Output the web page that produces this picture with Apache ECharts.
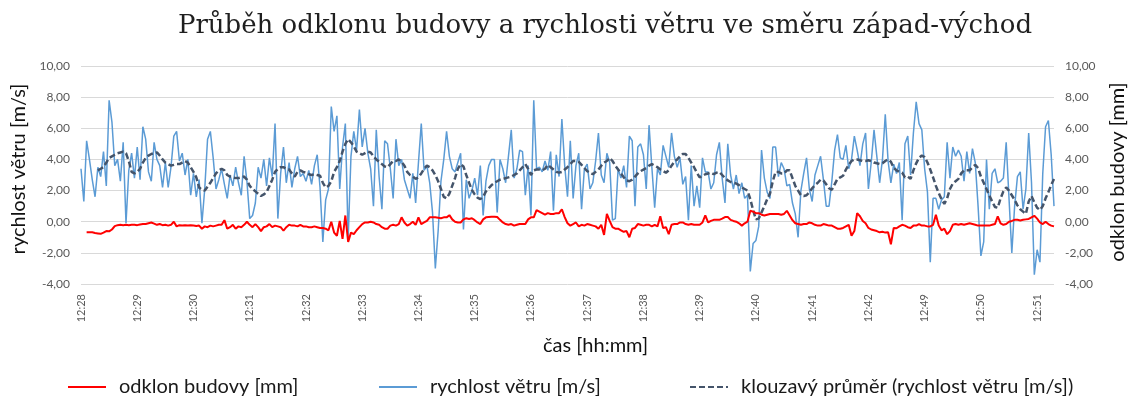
<!DOCTYPE html>
<html>
<head>
<meta charset="utf-8">
<title>Průběh odklonu budovy a rychlosti větru</title>
<script src="https://cdn.jsdelivr.net/npm/echarts@6/dist/echarts.min.js"></script>
<style>
  html, body { margin: 0; padding: 0; background: #ffffff; }
  #chart { width: 1136px; height: 396px; }
</style>
</head>
<body>
<div id="chart"></div>
<script>
// Time labels shown along the x axis (one every labelEvery samples)
const tickLabels = ['12:28', '12:29', '12:30', '12:31', '12:32', '12:33', '12:34', '12:35', '12:36',
  '12:37', '12:38', '12:39', '12:40', '12:41', '12:42', '12:49', '12:50', '12:51'];
const labelEvery = 20;

// Wind speed in the west-east direction [m/s]
const windSpeed = [
  3.4, 1.3, 5.2, 4.0, 2.7, 1.6, 3.5, 2.9, 4.5, 2.3, 7.8, 6.4, 3.6, 4.0, 2.6, 5.1, -0.1, 3.3, 4.4, 2.8,
  4.8, 2.7, 6.1, 5.3, 3.2, 2.6, 5.1, 4.0, 3.6, 2.2, 3.8, 2.2, 3.5, 5.5, 5.8, 3.9, 4.4, 3.0, 4.0, 1.7,
  3.1, 1.6, 2.7, -0.1, 2.1, 5.3, 5.8, 4.1, 2.1, 2.7, 3.4, 2.4, 1.5, 3.0, 2.3, 3.5, 2.5, 1.7, 4.2, 2.6,
  0.2, 0.4, 1.2, 3.5, 2.8, 4.0, 2.3, 4.1, 2.9, 6.3, 0.2, 3.1, 4.8, 2.5, 3.8, 2.2, 3.4, 4.2, 2.9, 3.1,
  2.6, 3.3, 2.4, 3.6, 4.3, 2.2, -1.3, 1.4, 2.1, 7.4, 5.8, 6.8, 2.1, 4.8, 6.3, -1.1, 4.2, 5.8, 4.6, 7.2,
  4.8, 6.0, 4.4, 3.4, 1.0, 5.9, 2.9, 0.8, 5.2, 5.0, 3.4, 1.5, 5.3, 3.6, 4.0, 2.7, 2.1, 1.5, 3.1, 1.2,
  3.8, 6.3, 3.3, 3.6, 2.5, 0.6, -3.0, -0.6, 2.6, 4.0, 5.8, 4.2, 3.4, 3.2, 3.8, 4.4, -0.5, 2.7, 1.5, 2.0,
  2.8, 1.7, 3.6, 0.4, 2.6, 3.6, 4.0, 4.0, 0.6, 4.0, 3.4, 2.5, 4.2, 5.9, 2.8, 3.4, 4.6, 4.5, 1.7, 3.6,
  0.4, 7.8, 3.4, 3.5, 3.2, 3.9, 3.3, 4.5, 0.7, 4.3, 2.9, 6.6, 3.6, 1.6, 5.2, 1.5, 3.6, 4.4, 0.8, 3.4,
  3.7, 2.1, 2.5, 3.9, 5.7, 3.0, 2.5, 4.4, 3.8, 0.1, 0.2, 3.4, 2.8, 3.6, 2.2, 5.5, 5.2, 1.0, 4.8, 5.0,
  4.3, 2.1, 6.2, 3.5, 0.9, 3.4, 3.0, 4.9, 4.2, 3.5, 5.7, 4.2, 3.5, 4.1, 2.4, 2.9, 0.1, 3.6, 1.0, 2.3,
  0.9, 4.1, 3.2, 3.2, 2.1, 2.5, 4.3, 5.1, 2.8, 1.2, 5.0, 3.0, 2.1, 3.0, 1.8, 2.5, 1.5, 1.7, -3.2, -1.4,
  -1.2, -0.3, 4.6, 2.8, 1.9, 1.5, 4.8, 4.8, 2.9, 3.8, 3.4, 2.3, 2.4, 1.2, 0.5, -1.0, 2.0, 3.1, 4.1, 2.1,
  1.3, 3.0, 3.6, 4.2, 2.7, 1.0, 1.0, 2.6, 4.6, 5.6, 4.1, 4.0, 4.9, 3.4, 4.0, 5.5, 4.6, 3.6, 5.0, 5.7,
  2.1, 3.8, 5.9, 4.2, 2.5, 4.0, 6.9, 3.9, 2.5, 3.7, 3.1, 3.8, 0.1, 5.0, 5.5, 3.0, 5.7, 7.7, 6.3, 5.9,
  3.4, 1.9, -2.6, 1.5, 1.5, 0.8, 1.4, 1.6, 5.1, 2.8, 4.8, 4.2, 4.6, 4.2, 2.6, 4.5, 3.1, 4.7, 3.8, 1.0,
  -2.2, -1.3, 4.0, 0.8, 3.1, 3.4, 2.5, 2.6, 2.8, 5.1, 1.5, -2.0, 1.0, 2.9, 3.2, 0.8, 2.1, 5.7, 2.5, -3.4,
  -1.8, -2.6, 3.1, 6.1, 6.5, 4.3, 1.0
];

// Moving average of the wind speed [m/s]
const movingAverage = [
  null, null, null, null, null, null, 3.3, 3.4, 3.5, 3.8, 4.1, 4.2, 4.3, 4.4, 4.45, 4.5, 4.4, 3.9, 3.2, 3.1,
  3.2, 3.4, 3.8, 4.1, 4.25, 4.35, 4.4, 4.45, 4.25, 4.0, 3.8, 3.7, 3.6, 3.65, 3.7, 3.7, 3.8, 3.9, 3.8, 3.5,
  3.2, 2.85, 2.2, 2.05, 2.0, 2.25, 2.5, 2.8, 3.1, 3.3, 3.4, 3.3, 3.0, 2.9, 2.85, 2.8, 2.8, 2.85, 2.9, 2.7,
  2.3, 2.1, 1.95, 1.8, 1.65, 1.75, 1.9, 2.3, 2.7, 3.2, 3.4, 3.5, 3.5, 3.4, 3.35, 3.1, 2.9, 3.2, 3.3, 3.2,
  3.15, 3.05, 3.0, 3.05, 3.0, 2.95, 2.5, 2.2, 2.3, 2.6, 3.2, 3.5, 3.9, 4.5, 5.0, 5.3, 5.1, 4.85, 4.5, 4.4,
  4.3, 4.4, 4.5, 4.45, 4.2, 4.0, 3.85, 3.7, 3.55, 3.5, 3.7, 3.9, 3.9, 4.0, 3.85, 3.6, 3.2, 3.0, 2.9, 2.75,
  2.85, 3.1, 3.4, 3.6, 3.5, 3.3, 3.0, 2.6, 2.1, 1.6, 1.5, 1.8, 2.3, 2.8, 3.4, 3.7, 3.55, 3.0, 2.5, 2.05,
  1.75, 1.55, 1.45, 1.6, 1.95, 2.15, 2.35, 2.5, 2.6, 2.7, 2.75, 2.8, 2.85, 2.9, 3.0, 3.1, 3.3, 3.5, 3.7, 3.4,
  3.0, 3.3, 3.35, 3.35, 3.3, 3.4, 3.65, 3.5, 3.35, 3.2, 3.15, 3.2, 3.35, 3.5, 3.7, 3.9, 3.9, 3.85, 3.65, 3.45,
  3.25, 3.15, 3.05, 3.2, 3.35, 3.6, 3.8, 3.9, 4.1, 3.9, 3.6, 3.35, 3.1, 2.85, 2.65, 2.6, 2.7, 2.9, 3.1, 3.25,
  3.35, 3.45, 3.6, 3.7, 3.6, 3.5, 3.35, 3.25, 3.15, 3.3, 3.6, 3.85, 4.0, 4.2, 4.35, 4.35, 4.1, 3.8, 3.5, 3.15,
  2.85, 2.95, 3.05, 3.1, 3.15, 3.05, 3.15, 3.2, 3.0, 2.8, 2.65, 2.55, 2.5, 2.45, 2.35, 2.2, 2.1, 2.0, 1.45, 0.75,
  0.15, 0.2, 0.6, 1.0, 1.45, 1.8, 2.6, 3.2, 3.2, 3.1, 3.1, 3.3, 3.3, 2.8, 2.3, 2.0, 1.7, 1.65, 1.7, 1.9,
  2.15, 2.35, 2.5, 2.7, 2.65, 2.4, 2.15, 2.05, 2.4, 2.75, 2.85, 2.95, 3.35, 3.65, 3.9, 4.0, 4.0, 3.95, 3.9, 3.9,
  3.95, 3.9, 3.8, 3.75, 3.7, 3.75, 3.9, 4.0, 3.85, 3.45, 3.3, 3.2, 3.15, 2.85, 2.9, 2.75, 3.3, 3.75, 4.1, 4.25,
  4.15, 3.8, 3.35, 2.85, 2.3, 1.85, 1.45, 1.15, 1.5, 2.1, 2.45, 2.6, 2.75, 3.1, 3.3, 3.3, 3.3, 3.5, 3.65, 3.45,
  2.9, 2.5, 2.1, 1.7, 1.3, 0.95, 0.9, 1.5, 1.95, 2.2, 2.0, 1.7, 1.4, 1.05, 0.8, 0.65, 0.5, 1.3, 1.65, 1.25,
  0.9, 0.75, 1.0, 1.5, 1.9, 2.35, 2.75
];

// Building deflection [mm], right axis
const buildingDeflection = [
  null, null, -0.68, -0.68, -0.68, -0.72, -0.75, -0.78, -0.7, -0.6, -0.62, -0.5, -0.28, -0.22, -0.2, -0.22, -0.2, -0.22, -0.2, -0.2,
  -0.22, -0.18, -0.15, -0.15, -0.1, -0.05, -0.12, -0.2, -0.15, -0.22, -0.2, -0.25, -0.2, 0.0, -0.3, -0.22, -0.25, -0.22, -0.25, -0.22,
  -0.25, -0.28, -0.25, -0.45, -0.3, -0.35, -0.25, -0.3, -0.25, -0.2, -0.2, 0.1, -0.45, -0.35, -0.2, -0.45, -0.3, -0.35, -0.2, 0.0,
  -0.2, -0.35, -0.15, -0.35, -0.6, -0.35, -0.3, -0.15, -0.35, -0.25, -0.3, -0.35, -0.58, -0.35, -0.2, -0.25, -0.25, -0.3, -0.2, -0.3,
  -0.3, -0.35, -0.35, -0.3, -0.35, -0.4, -0.4, -0.45, -0.55, 0.0, -0.7, -0.9, 0.05, -1.1, 0.4, -1.3, -0.7, -0.8, -0.55, -0.35,
  -0.15, -0.05, -0.05, 0.0, -0.05, -0.15, -0.2, -0.35, -0.45, -0.45, -0.25, -0.2, -0.25, -0.15, 0.28, -0.05, -0.25, -0.15, 0.0, -0.2,
  0.28, -0.15, -0.05, 0.05, 0.28, 0.28, 0.28, 0.25, 0.22, 0.28, 0.28, 0.42, 0.15, 0.0, -0.05, -0.05, 0.15, 0.22, 0.18, 0.22,
  0.1, -0.05, -0.15, 0.15, 0.28, 0.3, 0.32, 0.32, 0.3, 0.12, -0.05, -0.15, -0.2, -0.15, -0.25, -0.2, -0.15, -0.15, -0.15, 0.15,
  0.28, 0.28, 0.75, 0.65, 0.55, 0.45, 0.55, 0.5, 0.5, 0.55, 0.55, 0.8, 0.3, -0.1, -0.25, -0.15, -0.05, -0.3, -0.2, -0.25,
  -0.15, -0.2, -0.25, -0.3, -0.45, -0.2, -0.85, 0.5, 0.05, -0.35, -0.45, -0.45, -0.55, -0.65, -0.6, -1.0, -0.45, -0.4, -0.15, -0.2,
  -0.25, -0.2, -0.2, -0.3, -0.2, -0.3, 0.35, -0.4, -0.35, -0.8, -0.2, -0.15, -0.15, -0.05, -0.05, -0.15, -0.2, -0.15, -0.2, -0.2,
  -0.2, -0.05, 0.4, -0.05, 0.05, 0.12, 0.12, 0.12, 0.2, 0.3, 0.3, 0.12, 0.05, 0.0, -0.1, -0.25, -0.1, 0.0, 0.7, 0.65,
  0.55, 0.55, 0.45, 0.4, 0.45, 0.5, 0.5, 0.5, 0.5, 0.45, 0.5, 0.7, 0.4, 0.1, -0.1, -0.15, -0.2, -0.15, -0.15, -0.05,
  -0.1, -0.2, -0.25, -0.25, -0.15, -0.2, -0.25, -0.25, -0.35, -0.45, -0.45, -0.4, -0.3, -0.2, -0.9, -0.6, 0.55, 0.35, 0.05, -0.1,
  -0.4, -0.5, -0.55, -0.6, -0.68, -0.65, -0.7, -0.68, -1.45, -0.4, -0.42, -0.3, -0.2, -0.25, -0.35, -0.4, -0.25, -0.25, -0.15, -0.25,
  -0.25, -0.3, -0.3, -0.2, 0.45, -0.25, -0.55, -0.45, -0.8, -0.6, -0.2, -0.15, -0.2, -0.15, -0.2, -0.15, -0.1, -0.15, -0.2, -0.25,
  -0.25, -0.25, -0.25, -0.25, -0.2, -0.15, 0.35, -0.1, -0.2, -0.15, 0.0, 0.05, 0.12, 0.12, 0.08, 0.12, 0.15, 0.18, 0.28, 0.38,
  0.2, -0.05, -0.15, 0.0, -0.15, -0.25, -0.3
];

// One category per sample; the axis shows a time label every labelEvery samples
const sampleIndex = windSpeed.map((_, i) => String(i));

const labelFont = 'Lato, "Open Sans", "Noto Sans", sans-serif';
const gridColor = '#D9D9D9';
const commaDecimal = (v) => v.toFixed(2).replace('.', ',');

const chart = echarts.init(document.getElementById('chart'), null, { renderer: 'canvas' });

// Legend entries show only the line sample (the round marker is hidden)
const legendBase = {
  top: 372,
  orient: 'horizontal',
  itemWidth: 38,
  itemHeight: 14,
  itemStyle: { opacity: 0 },
  textStyle: { fontFamily: labelFont, fontSize: 20, color: '#1a1a1a', padding: [0, 0, 0, 8] }
};

chart.setOption({
  animation: false,
  backgroundColor: '#ffffff',
  title: {
    text: 'Průběh odklonu budovy a rychlosti větru ve směru západ-východ',
    left: 600,
    top: 8,
    textAlign: 'center',
    textStyle: {
      fontFamily: '"DejaVu Serif", "Liberation Serif", serif',
      fontWeight: 'normal',
      fontSize: 26,
      color: '#1f1f1f'
    }
  },
  legend: [
    Object.assign({ left: 62, data: ['odklon budovy [mm]'] }, legendBase),
    Object.assign({ left: 373, data: ['rychlost větru [m/s]'] }, legendBase),
    Object.assign({ left: 684, data: ['klouzavý průměr (rychlost větru [m/s])'] }, legendBase)
  ],
  grid: { left: 81, right: 73, top: 66, height: 218, containLabel: false },
  xAxis: {
    type: 'category',
    data: sampleIndex,
    boundaryGap: false,
    axisLine: { show: false },
    axisTick: { show: false },
    axisLabel: {
      interval: labelEvery - 1,
      rotate: 90,
      margin: 10,
      fontFamily: labelFont,
      fontSize: 11,
      color: '#595959',
      formatter: (value, index) => tickLabels[Math.round(index / labelEvery)] || ''
    },
    splitLine: { show: false },
    name: 'čas [hh:mm]',
    nameLocation: 'middle',
    nameGap: 52,
    // the axis title sits a little right of the plot centre
    nameTextStyle: { fontFamily: labelFont, fontSize: 20, color: '#111111', padding: [0, 0, 0, 56] }
  },
  yAxis: [
    {
      type: 'value',
      position: 'left',
      min: -4,
      max: 10,
      interval: 2,
      axisLine: { show: false },
      axisTick: { show: false },
      axisLabel: { formatter: commaDecimal, fontFamily: labelFont, fontSize: 12, color: '#595959', margin: 11 },
      splitLine: { show: true, lineStyle: { color: gridColor, width: 1 } },
      name: 'rychlost větru [m/s]',
      nameLocation: 'middle',
      nameRotate: 90,
      nameGap: 49,
      nameTextStyle: { fontFamily: labelFont, fontSize: 20, color: '#111111', padding: [0, 0, 0, 12] }
    },
    {
      type: 'value',
      position: 'right',
      min: -4,
      max: 10,
      interval: 2,
      axisLine: { show: false },
      axisTick: { show: false },
      axisLabel: { formatter: commaDecimal, fontFamily: labelFont, fontSize: 12, color: '#595959', margin: 11 },
      splitLine: { show: false },
      name: 'odklon budovy [mm]',
      nameLocation: 'middle',
      nameRotate: 90,
      nameGap: 54,
      nameTextStyle: { fontFamily: labelFont, fontSize: 20, color: '#111111', padding: [0, 0, 0, 6] }
    }
  ],
  series: [
    {
      name: 'rychlost větru [m/s]',
      type: 'line',
      yAxisIndex: 0,
      data: windSpeed,
      symbol: 'none',
      z: 2,
      lineStyle: { color: '#5B9BD5', width: 1.5 },
      itemStyle: { color: '#5B9BD5' }
    },
    {
      name: 'klouzavý průměr (rychlost větru [m/s])',
      type: 'line',
      yAxisIndex: 0,
      data: movingAverage,
      symbol: 'none',
      z: 3,
      lineStyle: { color: '#44546A', width: 2.5, type: [6, 3] },
      itemStyle: { color: '#44546A' }
    },
    {
      name: 'odklon budovy [mm]',
      type: 'line',
      yAxisIndex: 1,
      data: buildingDeflection,
      symbol: 'none',
      z: 4,
      lineStyle: { color: '#FF0000', width: 2 },
      itemStyle: { color: '#FF0000' }
    }
  ]
});
</script>
</body>
</html>
